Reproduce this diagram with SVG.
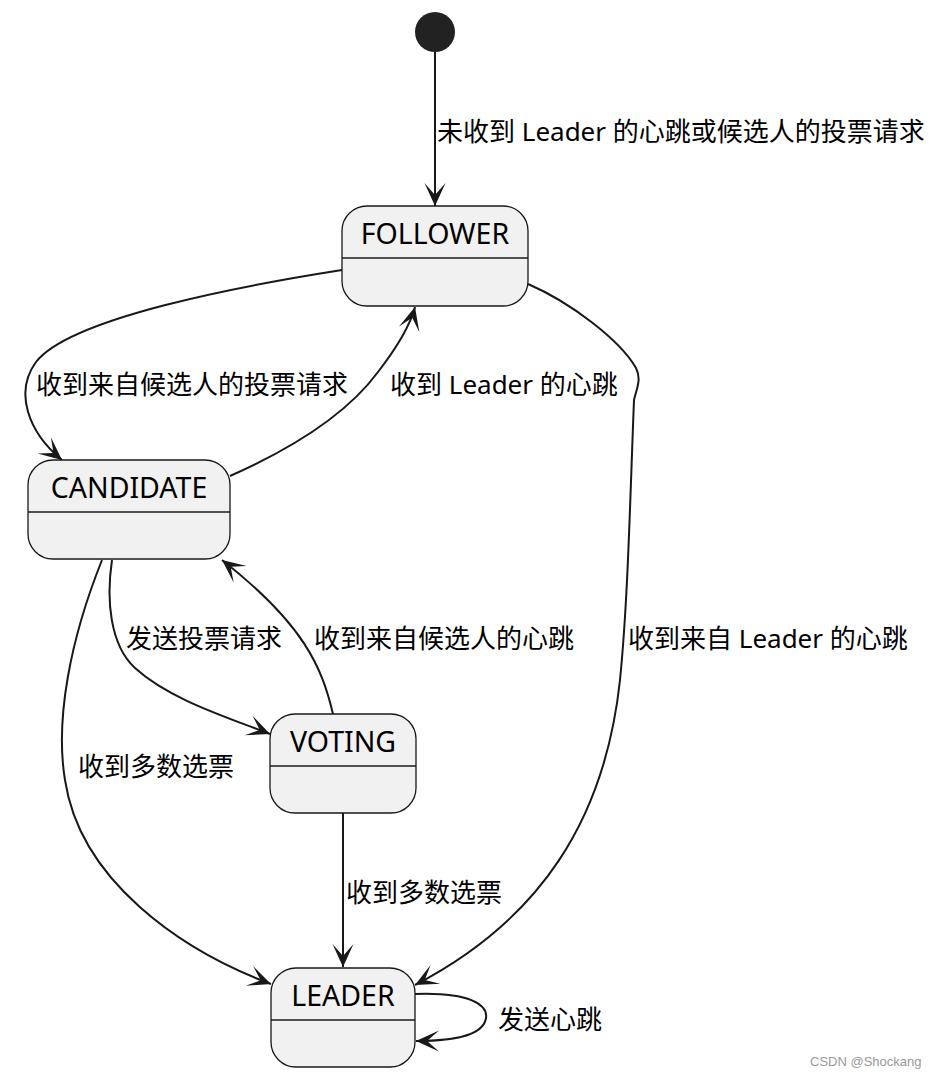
<svg xmlns="http://www.w3.org/2000/svg" width="939" height="1078" viewBox="0 0 939 1078">
  <style>
    .state { fill: #F1F1F1; stroke: #181818; stroke-width: 1.3; }
    .sep { stroke: #181818; stroke-width: 1.3; }
    .title { font-family: "Noto Sans", "Noto Sans CJK SC", sans-serif; font-size: 28.5px; fill: #000; text-anchor: middle; }
    .edge { fill: none; stroke: #181818; stroke-width: 2; marker-end: url(#arrow); }
    .lbl { font-family: "Noto Sans", "Noto Sans CJK SC", sans-serif; font-size: 26px; fill: #000; }
    .mark { font-family: "Liberation Sans", Arial, sans-serif; font-size: 13px; fill: #9a9a9a; }
  </style>
  <defs>
    <marker id="arrow" markerUnits="userSpaceOnUse" viewBox="-25 -12 27 24" refX="0" refY="0" markerWidth="27" markerHeight="24" orient="auto">
      <path d="M0,0 L-23,-10.5 L-11,0 L-23,10.5 Z" fill="#181818"/>
    </marker>
  </defs>

  <rect width="939" height="1078" fill="#FFFFFF"/>

  <!-- transitions -->
  <g id="connectors">
    <path class="edge" d="M435,52 L435,206"/>
    <path class="edge" d="M342,270 C 240,286 70,318 36,362 C 14,392 28,432 62,460"/>
    <path class="edge" d="M230,476 C 300,445 350,410 378,372 C 398,346 410,326 415,307"/>
    <path class="edge" d="M528,284 C 570,302 620,340 636,368 C 642,380 636,390 634,400 C 630,500 628,600 620,680 C 605,820 540,920 415,985"/>
    <path class="edge" d="M112,560 C 106,600 110,645 135,668 C 170,700 230,718 270,734"/>
    <path class="edge" d="M333,714 C 322,668 305,625 222,560"/>
    <path class="edge" d="M102,560 C 70,640 55,720 65,780 C 80,880 180,950 271,984"/>
    <path class="edge" d="M343,813 L343,967"/>
    <path class="edge" d="M415,994 C 470,992 488,1005 486,1018 C 484,1032 465,1041 416,1041"/>

    <text class="lbl" x="437" y="141">未收到 Leader 的心跳或候选人的投票请求</text>
    <text class="lbl" x="36" y="394">收到来自候选人的投票请求</text>
    <text class="lbl" x="390" y="394">收到 Leader 的心跳</text>
    <text class="lbl" x="126" y="648">发送投票请求</text>
    <text class="lbl" x="314" y="648">收到来自候选人的心跳</text>
    <text class="lbl" x="628" y="648">收到来自 Leader 的心跳</text>
    <text class="lbl" x="78" y="776">收到多数选票</text>
    <text class="lbl" x="346" y="902">收到多数选票</text>
    <text class="lbl" x="498" y="1029">发送心跳</text>
  </g>

  <!-- initial pseudo-state -->
  <g id="start">
    <circle cx="435" cy="32" r="20" fill="#222222"/>
  </g>

  <g id="follower">
    <rect class="state" x="342" y="206" width="186" height="100" rx="25" ry="25"/>
    <line class="sep" x1="342" y1="258" x2="528" y2="258"/>
    <text class="title" x="435" y="244">FOLLOWER</text>
  </g>

  <g id="candidate">
    <rect class="state" x="28" y="460" width="202" height="99" rx="25" ry="25"/>
    <line class="sep" x1="28" y1="512" x2="230" y2="512"/>
    <text class="title" x="129" y="498">CANDIDATE</text>
  </g>

  <g id="voting">
    <rect class="state" x="270" y="714" width="146" height="99" rx="25" ry="25"/>
    <line class="sep" x1="270" y1="766" x2="416" y2="766"/>
    <text class="title" x="343" y="752">VOTING</text>
  </g>

  <g id="leader">
    <rect class="state" x="271" y="968" width="144" height="99" rx="25" ry="25"/>
    <line class="sep" x1="271" y1="1020" x2="415" y2="1020"/>
    <text class="title" x="343" y="1006">LEADER</text>
  </g>

  <text class="mark" x="810" y="1066">CSDN @Shockang</text>
</svg>
